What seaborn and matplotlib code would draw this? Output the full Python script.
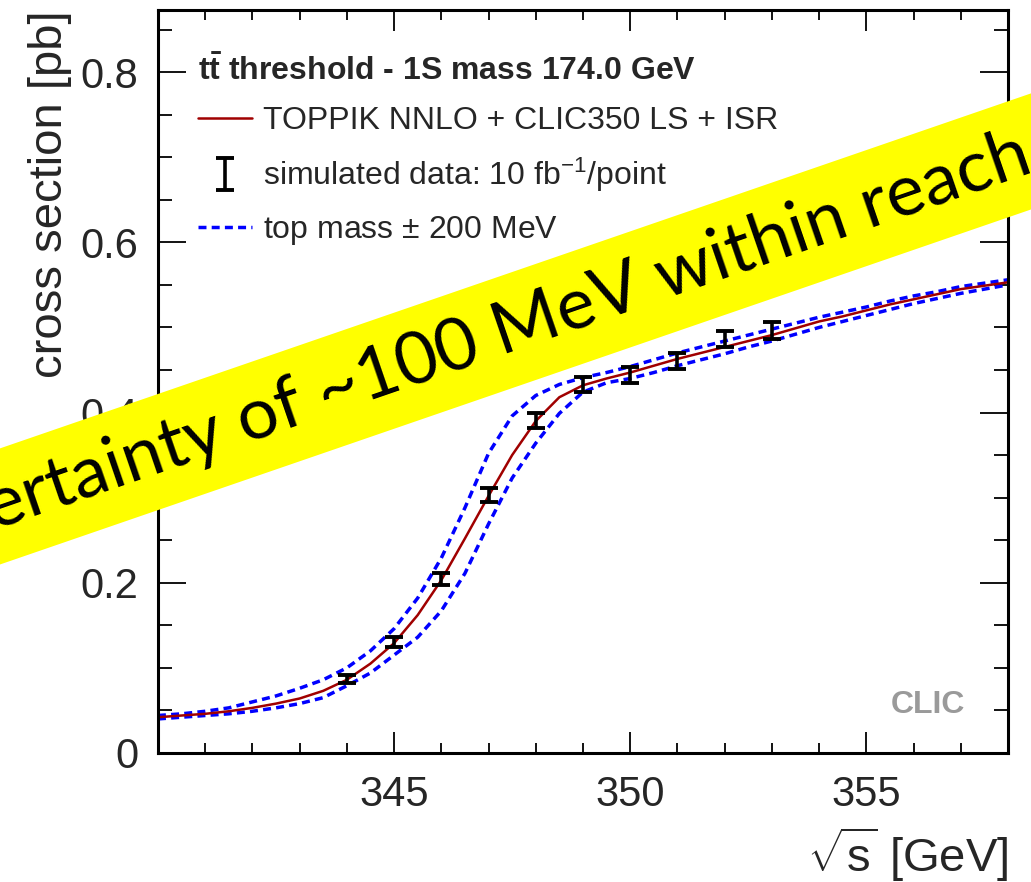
import numpy as np
import pandas as pd
import matplotlib
matplotlib.use("Agg")
import matplotlib.pyplot as plt
from matplotlib.lines import Line2D
from matplotlib.ticker import FixedLocator, MultipleLocator, FuncFormatter
import seaborn as sns

# theory curves, every 0.5 GeV
sqrt_s_grid = [340.0, 340.5, 341.0, 341.5, 342.0, 342.5, 343.0, 343.5, 344.0, 344.5,
               345.0, 345.5, 346.0, 346.5, 347.0, 347.5, 348.0, 348.5, 349.0, 349.5,
               350.0, 350.5, 351.0, 351.5, 352.0, 352.5, 353.0, 353.5, 354.0, 354.5,
               355.0, 355.5, 356.0, 356.5, 357.0, 357.5, 358.0]
xsec_nominal = [0.042, 0.044, 0.046, 0.049, 0.053, 0.058, 0.064, 0.073, 0.086, 0.105,
                0.129, 0.162, 0.203, 0.252, 0.302, 0.350, 0.390, 0.418, 0.432, 0.440,
                0.447, 0.455, 0.463, 0.470, 0.477, 0.484, 0.491, 0.499, 0.507, 0.513,
                0.520, 0.527, 0.533, 0.539, 0.545, 0.549, 0.553]
xsec_mass_down = [0.044, 0.046, 0.049, 0.053, 0.060, 0.067, 0.076, 0.086, 0.100, 0.120,
                  0.146, 0.182, 0.229, 0.288, 0.352, 0.396, 0.420, 0.433, 0.441, 0.447,
                  0.454, 0.462, 0.470, 0.477, 0.484, 0.491, 0.498, 0.505, 0.512, 0.518,
                  0.524, 0.531, 0.537, 0.542, 0.548, 0.552, 0.556]
xsec_mass_up = [0.040, 0.042, 0.044, 0.046, 0.049, 0.053, 0.058, 0.065, 0.079, 0.094,
                0.115, 0.136, 0.167, 0.211, 0.269, 0.323, 0.364, 0.399, 0.424, 0.435,
                0.440, 0.447, 0.455, 0.462, 0.469, 0.477, 0.484, 0.492, 0.500, 0.507,
                0.514, 0.521, 0.528, 0.534, 0.540, 0.545, 0.550]

# simulated scan points
sqrt_s_points = [344, 345, 346, 347, 348, 349, 350, 351, 352, 353]
xsec_points = [0.087, 0.130, 0.204, 0.303, 0.391, 0.433, 0.444, 0.461, 0.486, 0.496]
xsec_errors = [0.005, 0.006, 0.007, 0.008, 0.009, 0.009, 0.009, 0.0095, 0.0095, 0.010]

sns.set_style("ticks")
plt.rcParams["font.family"] = ["Liberation Sans", "DejaVu Sans"]
plt.rcParams["mathtext.fontset"] = "custom"
plt.rcParams["mathtext.rm"] = "Liberation Sans"
plt.rcParams["mathtext.it"] = "Liberation Sans:italic"
plt.rcParams["mathtext.bf"] = "Liberation Sans:bold"

red = "#a00000"
blue = "#0000ff"

curves = pd.DataFrame({"sqrt_s": sqrt_s_grid, "nominal": xsec_nominal,
                       "down": xsec_mass_down, "up": xsec_mass_up})

fig = plt.figure(figsize=(10.31, 8.82), dpi=100)
ax = fig.add_axes([0.1532, 0.1463, 0.8245, 0.8424])

sns.lineplot(data=curves, x="sqrt_s", y="down", ax=ax, color=blue, lw=2.5)
sns.lineplot(data=curves, x="sqrt_s", y="up", ax=ax, color=blue, lw=2.5)
for ln in ax.lines:
    ln.set_dashes((2.3, 1.5))
sns.lineplot(data=curves, x="sqrt_s", y="nominal", ax=ax, color=red, lw=1.8)

eb = ax.errorbar(sqrt_s_points, xsec_points, yerr=xsec_errors, fmt="none",
                 ecolor="black", elinewidth=2.6, capsize=6.5, capthick=2.8, zorder=5)

ax.set_xlim(340, 358)
ax.set_ylim(0, 0.873)
ax.xaxis.set_major_locator(FixedLocator([345, 350, 355]))
ax.xaxis.set_minor_locator(MultipleLocator(1))
ax.yaxis.set_major_locator(FixedLocator([0, 0.2, 0.4, 0.6, 0.8]))
ax.yaxis.set_minor_locator(MultipleLocator(0.05))
ax.yaxis.set_major_formatter(FuncFormatter(lambda v, p: f"{v:g}"))

ax.tick_params(which="both", direction="in", top=True, right=True,
               width=1.3, color="black")
ax.tick_params(axis="x", which="major", length=15, labelsize=30, pad=16)
ax.tick_params(axis="x", which="minor", length=7.5)
ax.tick_params(axis="y", which="major", length=20, labelsize=30, pad=14)
ax.tick_params(axis="y", which="minor", length=10)
for sp in ax.spines.values():
    sp.set_visible(True)
    sp.set_linewidth(2.2)
    sp.set_color("black")

ax.set_xlabel(r"$\sqrt{\mathrm{s}}$ [GeV]", fontsize=34, loc="right")
ax.set_ylabel("cross section [pb]", fontsize=34, loc="top")
ax.xaxis.set_label_coords(1.0, -0.097)
ax.yaxis.set_label_coords(-0.101, 1.0)

handles = [
    Line2D([], [], color=red, lw=1.8),
    eb,
    Line2D([], [], color=blue, lw=2.5, dashes=(2.3, 1.5)),
]
labels = ["TOPPIK NNLO + CLIC350 LS + ISR",
          r"simulated data: 10 fb$^{-1}$/point",
          "top mass $\\pm$ 200 MeV"]
leg = ax.legend(handles, labels, loc="upper left", bbox_to_anchor=(0.047, 0.94),
                frameon=False, fontsize=23, handlelength=1.7, handletextpad=0.35,
                labelspacing=0.62, borderpad=0, borderaxespad=0,
                title=r"$\mathbf{t\bar{t}}$ threshold - 1S mass 174.0 GeV",
                title_fontproperties={"weight": "bold", "size": 23},
                alignment="left")

ax.text(0.949, 0.065, "CLIC", transform=ax.transAxes, ha="right", va="center",
        fontsize=23, fontweight="bold", color="#9a9a9a")

# yellow banner laid over the plot, running off both edges
fig.text(0.997, 0.8271, "Uncertainty of ~100 MeV within reach", family="Lato",
         fontsize=52, rotation=19, rotation_mode="anchor", ha="right", va="center",
         color="black",
         bbox=dict(boxstyle="square,pad=0.31", fc="#ffff00", ec="none"))

fig.savefig("out.png", dpi=100)
